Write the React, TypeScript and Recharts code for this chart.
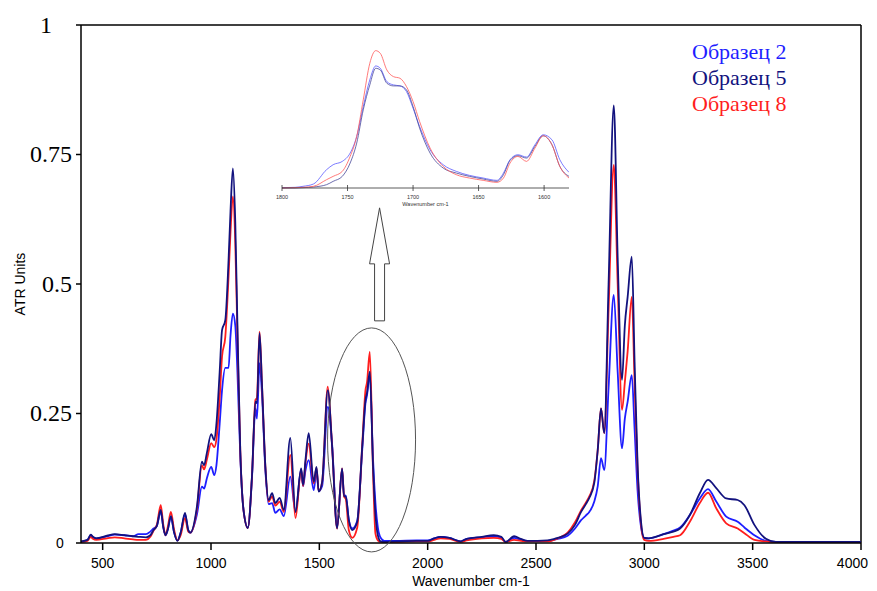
import React from 'react';
import { LineChart, Line, XAxis, YAxis, ReferenceLine, ReferenceDot } from 'recharts';

// ---------- main spectrum data ----------
const wavenumbers = [
  400, 430, 445, 455, 470, 520, 556, 600, 640, 665, 700, 720, 735, 750, 768, 780, 790, 800, 815, 830,
  845, 860, 880, 895, 905, 935, 958, 968, 981, 1001, 1015, 1025, 1040, 1051, 1066, 1081, 1090, 1101, 1112, 1122,
  1135, 1150, 1170, 1189, 1205, 1212, 1224, 1235, 1251, 1266, 1282, 1297, 1317, 1336, 1366, 1390, 1416, 1425, 1436, 1451,
  1474, 1487, 1497, 1513, 1539, 1559, 1582, 1605, 1614, 1622, 1636, 1652, 1675, 1698, 1713, 1720, 1733, 1748, 1759, 1770,
  1783, 1800, 1850, 1950, 2000, 2030, 2060, 2100, 2152, 2180, 2250, 2305, 2340, 2360, 2399, 2430, 2461, 2553, 2600, 2646,
  2680, 2708, 2730, 2746, 2769, 2785, 2800, 2815, 2835, 2859, 2877, 2897, 2910, 2923, 2942, 2955, 2969, 2985, 2999, 3020,
  3089, 3134, 3165, 3210, 3256, 3294, 3332, 3378, 3431, 3462, 3508, 3561, 3607, 4000,
];
const sample5 = [
  0.003, 0.006, 0.016, 0.012, 0.009, 0.014, 0.017, 0.015, 0.013, 0.012, 0.011, 0.015, 0.025, 0.033, 0.064, 0.03, 0.015, 0.025, 0.052, 0.02,
  0.004, 0.02, 0.058, 0.025, 0.02, 0.07, 0.157, 0.15, 0.174, 0.21, 0.198, 0.23, 0.33, 0.411, 0.43, 0.546, 0.64, 0.723, 0.62, 0.42,
  0.18, 0.064, 0.029, 0.128, 0.273, 0.27, 0.405, 0.309, 0.147, 0.083, 0.096, 0.077, 0.087, 0.064, 0.203, 0.06, 0.144, 0.112, 0.16, 0.212,
  0.118, 0.147, 0.099, 0.118, 0.295, 0.186, 0.028, 0.144, 0.09, 0.09, 0.044, 0.025, 0.041, 0.186, 0.276, 0.29, 0.331, 0.147, 0.055, 0.015,
  0.003, 0.002, 0.003, 0.004, 0.004, 0.009, 0.012, 0.01, 0.003, 0.008, 0.012, 0.015, 0.012, 0.002, 0.013, 0.008, 0.004, 0.005, 0.01, 0.018,
  0.035, 0.06, 0.075, 0.087, 0.116, 0.18, 0.26, 0.212, 0.5, 0.845, 0.55, 0.315, 0.42, 0.475, 0.553, 0.35, 0.15, 0.04, 0.01, 0.009,
  0.017, 0.022, 0.028, 0.054, 0.096, 0.122, 0.106, 0.086, 0.083, 0.073, 0.035, 0.008, 0.002, 0.002,
];
const sample8 = [
  0.002, 0.004, 0.012, 0.008, 0.006, 0.009, 0.011, 0.009, 0.007, 0.006, 0.006, 0.012, 0.024, 0.035, 0.073, 0.035, 0.015, 0.03, 0.06, 0.025,
  0.005, 0.015, 0.048, 0.022, 0.02, 0.065, 0.15, 0.142, 0.161, 0.193, 0.185, 0.2, 0.28, 0.36, 0.398, 0.514, 0.6, 0.669, 0.58, 0.4,
  0.18, 0.064, 0.029, 0.128, 0.276, 0.28, 0.408, 0.309, 0.147, 0.08, 0.09, 0.072, 0.08, 0.06, 0.17, 0.048, 0.14, 0.11, 0.155, 0.192,
  0.115, 0.145, 0.1, 0.118, 0.302, 0.186, 0.028, 0.144, 0.09, 0.085, 0.025, 0.01, 0.03, 0.19, 0.295, 0.31, 0.369, 0.135, 0.018, 0.005,
  0.002, 0.002, 0.002, 0.003, 0.003, 0.006, 0.009, 0.008, 0.002, 0.005, 0.009, 0.01, 0.008, 0.002, 0.006, 0.004, 0.003, 0.003, 0.009, 0.02,
  0.04, 0.063, 0.078, 0.09, 0.12, 0.18, 0.26, 0.212, 0.45, 0.73, 0.5, 0.257, 0.31, 0.37, 0.475, 0.31, 0.14, 0.035, 0.006, 0.004,
  0.008, 0.012, 0.015, 0.041, 0.077, 0.097, 0.067, 0.038, 0.028, 0.019, 0.006, 0.003, 0.002, 0.002,
];
const sample2 = [
  0.002, 0.006, 0.015, 0.011, 0.009, 0.013, 0.016, 0.015, 0.013, 0.017, 0.017, 0.022, 0.028, 0.033, 0.061, 0.03, 0.015, 0.025, 0.05, 0.02,
  0.005, 0.02, 0.055, 0.025, 0.02, 0.055, 0.109, 0.105, 0.125, 0.147, 0.131, 0.15, 0.23, 0.295, 0.338, 0.338, 0.4, 0.443, 0.42, 0.33,
  0.17, 0.064, 0.03, 0.125, 0.26, 0.24, 0.347, 0.29, 0.14, 0.075, 0.077, 0.058, 0.065, 0.052, 0.128, 0.06, 0.142, 0.11, 0.14, 0.16,
  0.102, 0.14, 0.1, 0.11, 0.263, 0.19, 0.03, 0.142, 0.09, 0.092, 0.045, 0.028, 0.043, 0.18, 0.27, 0.285, 0.325, 0.16, 0.077, 0.03,
  0.01, 0.004, 0.004, 0.005, 0.005, 0.009, 0.012, 0.01, 0.003, 0.008, 0.011, 0.013, 0.01, 0.002, 0.01, 0.006, 0.004, 0.004, 0.008, 0.014,
  0.028, 0.044, 0.053, 0.06, 0.08, 0.11, 0.164, 0.141, 0.3, 0.479, 0.33, 0.183, 0.24, 0.273, 0.324, 0.22, 0.1, 0.03, 0.01, 0.009,
  0.017, 0.024, 0.03, 0.054, 0.086, 0.104, 0.08, 0.051, 0.041, 0.03, 0.015, 0.004, 0.002, 0.002,
];
const xTicks = [500, 1000, 1500, 2000, 2500, 3000, 3500, 4000];
const yTicks = [0, 0.25, 0.5, 0.75, 1];

// ---------- inset (carbonyl region) data ----------
const insetWavenumbers = [
  1800, 1790, 1784, 1776, 1766, 1761, 1754, 1748, 1743, 1738, 1733, 1728.5, 1725, 1720, 1715, 1710, 1705, 1700,
  1695, 1687, 1677, 1667, 1657, 1646.5, 1636, 1631, 1626, 1620, 1613.4, 1607, 1600.7, 1594, 1588, 1581,
];
const insetSample8 = [
  0, 1, 2, 5, 25, 35, 50, 95, 155, 265, 375, 413, 405, 355, 335, 330, 305, 260,
  200, 120, 65, 40, 30, 23, 17, 30, 75, 95, 80, 120, 157, 130, 65, 30,
];
const insetSample2 = [
  1, 2, 5, 12, 55, 70, 80, 105, 155, 245, 325, 367, 360, 320, 310, 307, 290, 240,
  185, 115, 70, 50, 38, 30, 23, 45, 85, 100, 93, 130, 160, 145, 85, 47,
];
const insetSample5 = [
  0, 0, 1, 3, 10, 20, 35, 75, 135, 235, 310, 360, 355, 315, 307, 307, 295, 245,
  180, 105, 60, 45, 35, 27, 20, 40, 83, 97, 90, 125, 157, 130, 65, 35,
];
const insetTicks = [1800, 1750, 1700, 1650, 1600];

const seriesNames = ['Образец 2', 'Образец 5', 'Образец 8'];
const seriesColors = ['#1e1eff', '#12127e', '#ff1e1e'];

const mainData = wavenumbers.map((wn, i) => ({ wn, s2: sample2[i], s5: sample5[i], s8: sample8[i] }));
const insetData = insetWavenumbers.map((wn, i) => ({ wn, s2: insetSample2[i], s5: insetSample5[i], s8: insetSample8[i] }));

const serif = "'Liberation Serif', 'Times New Roman', serif";
const sansFont = "'Liberation Sans', Arial, sans-serif";

const XTick = (props: any) => {
  const { x, y, payload } = props;
  const last = payload.value === 4000;
  return (
    <text
      x={last ? x + 7 : x}
      y={y}
      dy="0.71em"
      textAnchor={last ? 'end' : 'middle'}
      fontFamily={sansFont}
      fontSize={14}
      fill="#000"
    >
      {payload.value}
    </text>
  );
};

const YTick = (props: any) => {
  const { x, y, payload } = props;
  const v = payload.value;
  if (v === 0) {
    return (
      <text x={x - 13} y={y} dy="0.35em" textAnchor="middle" fontFamily={sansFont} fontSize={14} fill="#000">0</text>
    );
  }
  if (v === 1) {
    return (
      <text x={x - 21} y={y} dy="0.33em" textAnchor="end" fontFamily={serif} fontSize={24} fill="#000">1</text>
    );
  }
  return (
    <text x={x - 1} y={y} dy="0.33em" textAnchor="end" fontFamily={serif} fontSize={24} fill="#000">{String(v)}</text>
  );
};

const InsetTick = (props: any) => {
  const { x, y, payload } = props;
  return (
    <g>
      <line x1={x} x2={x} y1={y - 3} y2={y + 3} stroke="#333" strokeWidth={0.8} />
      <text x={x} y={y + 11} textAnchor="middle" fontFamily={sansFont} fontSize={5.5} fill="#333">{payload.value}</text>
    </g>
  );
};

const EllipseShape = (props: any) => {
  const { cx, cy } = props;
  return <ellipse cx={cx} cy={cy} rx={44} ry={112} fill="none" stroke="#555" strokeWidth={1} />;
};

const ArrowShape = (props: any) => {
  const { cx, cy } = props;
  const pts = [
    [cx, cy],
    [cx + 10, cy + 56],
    [cx + 5, cy + 56],
    [cx + 5, cy + 113],
    [cx - 5, cy + 113],
    [cx - 5, cy + 56],
    [cx - 10, cy + 56],
  ].map((p) => p.join(',')).join(' ');
  return <polygon points={pts} fill="#fff" stroke="#444" strokeWidth={1} />;
};

export default function App() {
  return (
    <div style={{ position: 'relative', width: 861, height: 583 }}>
      <LineChart width={861} height={583} data={mainData} margin={{ top: 17, right: 8, left: 0, bottom: 0 }}>
        <XAxis
          type="number"
          dataKey="wn"
          domain={[400, 4000]}
          ticks={xTicks}
          interval={0}
          allowDataOverflow
          height={48}
          tickSize={7}
          tickMargin={8}
          axisLine={{ stroke: '#000', strokeWidth: 1.5 }}
          tickLine={{ stroke: '#000', strokeWidth: 1.5 }}
          tick={<XTick />}
          label={{ value: 'Wavenumber cm-1', position: 'insideBottom', offset: 5, fontFamily: sansFont, fontSize: 14, fill: '#000' }}
        />
        <YAxis
          type="number"
          domain={[0, 1]}
          ticks={yTicks}
          interval={0}
          width={73}
          tickSize={5}
          tickMargin={3}
          axisLine={{ stroke: '#000', strokeWidth: 1.5 }}
          tickLine={{ stroke: '#000', strokeWidth: 1.5 }}
          tick={<YTick />}
          label={{ value: 'ATR Units', angle: -90, position: 'insideLeft', offset: 12, fontFamily: sansFont, fontSize: 14, fill: '#000', style: { textAnchor: 'middle' } }}
        />
        <ReferenceLine y={1} stroke="#000" strokeWidth={1.5} />
        <ReferenceLine x={4000} stroke="#000" strokeWidth={1.5} />
        <Line type="monotone" dataKey="s2" name={seriesNames[0]} stroke={seriesColors[0]} strokeWidth={1.8} dot={false} isAnimationActive={false} />
        <Line type="monotone" dataKey="s8" name={seriesNames[2]} stroke={seriesColors[2]} strokeWidth={1.8} dot={false} isAnimationActive={false} />
        <Line type="monotone" dataKey="s5" name={seriesNames[1]} stroke={seriesColors[1]} strokeWidth={1.8} dot={false} isAnimationActive={false} />
        <ReferenceDot x={1741} y={0.199} shape={<EllipseShape />} />
        <ReferenceDot x={1778} y={0.647} shape={<ArrowShape />} />
      </LineChart>
      <div style={{ position: 'absolute', left: 684, top: 31, fontFamily: serif, fontSize: 22, lineHeight: '26px' }}>
        {seriesNames.map((n, i) => (
          <div key={n} style={{ color: seriesColors[i] }}>{n}</div>
        ))}
      </div>
      <div style={{ position: 'absolute', left: 262, top: 30 }}>
        <LineChart width={300} height={175} data={insetData} margin={{ top: 7, right: 1, left: 12, bottom: 0 }}>
          <XAxis
            type="number"
            dataKey="wn"
            domain={[1581, 1800]}
            reversed
            allowDataOverflow
            ticks={insetTicks}
            interval={0}
            height={25}
            tickSize={0}
            tickMargin={0}
            axisLine={{ stroke: '#333', strokeWidth: 0.8 }}
            tickLine={false}
            tick={<InsetTick />}
            label={{ value: 'Wavenumber cm-1', position: 'insideBottom', offset: 7, fontFamily: sansFont, fontSize: 5.5, fill: '#333' }}
          />
          <YAxis hide domain={[0, 430]} />
          <Line type="monotone" dataKey="s2" stroke="#5a5aff" strokeWidth={1} strokeOpacity={0.8} dot={false} isAnimationActive={false} />
          <Line type="monotone" dataKey="s5" stroke="#4a4a9a" strokeWidth={1} strokeOpacity={0.8} dot={false} isAnimationActive={false} />
          <Line type="monotone" dataKey="s8" stroke="#ff5a5a" strokeWidth={1} strokeOpacity={0.8} dot={false} isAnimationActive={false} />
        </LineChart>
      </div>
    </div>
  );
}
